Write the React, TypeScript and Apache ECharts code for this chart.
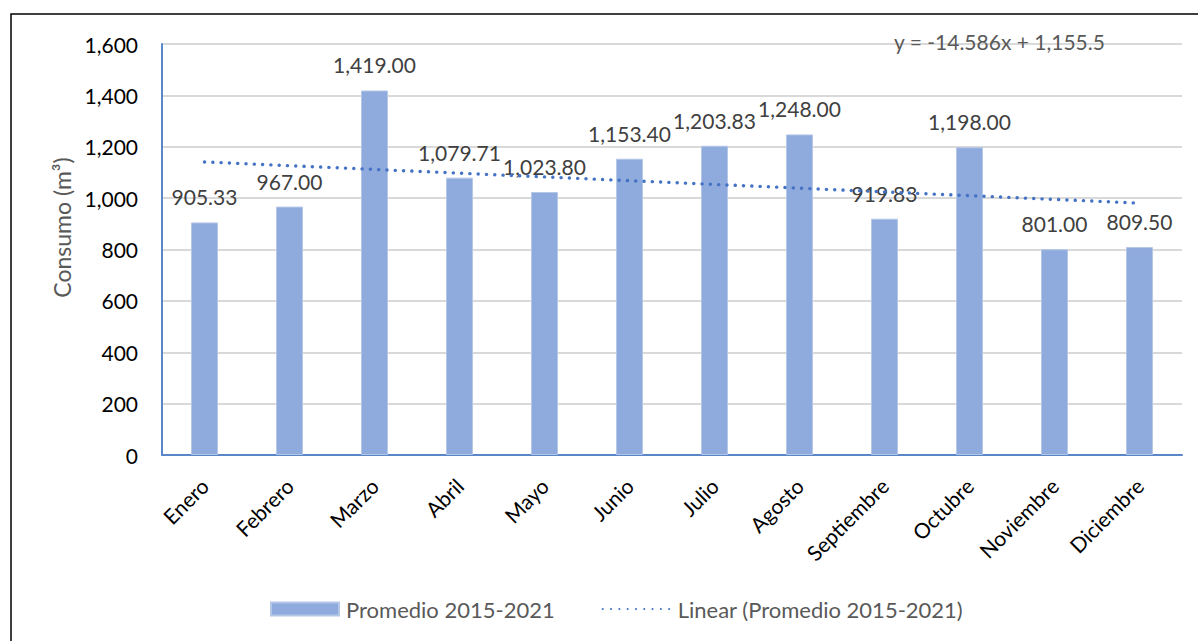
import React, { useEffect, useRef } from "react";
import * as echarts from "echarts";

const months = ["Enero", "Febrero", "Marzo", "Abril", "Mayo", "Junio", "Julio", "Agosto", "Septiembre", "Octubre", "Noviembre", "Diciembre"];
const promedio = [905.33, 967.0, 1419.0, 1079.71, 1023.8, 1153.4, 1203.83, 1248.0, 919.83, 1198.0, 801.0, 809.5];
// Trend line endpoints (from y = -14.586x + 1,155.5 at x = 1 and x = 12)
const trend = [1140.9, null, null, null, null, null, null, null, null, null, null, 980.5];
const yTicks = { min: 0, max: 1600, interval: 200 };
const equationText = "y = -14.586x + 1,155.5";
const seriesName = "Promedio 2015-2021";
const trendName = "Linear (Promedio 2015-2021)";

const FONT = "Lato, 'Open Sans', sans-serif";

export default function App() {
  const ref = useRef<HTMLDivElement>(null);
  useEffect(() => {
    if (!ref.current) return;
    const chart = echarts.init(ref.current, null, { renderer: "svg" });
    const fmt = (v: number) =>
      v.toLocaleString("en-US", { minimumFractionDigits: 2, maximumFractionDigits: 2 });
    chart.setOption({
      animation: false,
      backgroundColor: "#ffffff",
      textStyle: { fontFamily: FONT },
      grid: { left: 162, right: 16, top: 44, bottom: 186, containLabel: false },
      legend: {
        left: 270,
        top: 598,
        padding: 0,
        itemGap: 47,
        itemWidth: 68,
        itemHeight: 13,
        textStyle: { fontFamily: FONT, fontSize: 22, color: "#595959", padding: [0, 0, 0, 2] },
        data: [
          { name: seriesName, icon: "rect" },
          { name: trendName, itemStyle: { opacity: 0 } },
        ],
      },
      xAxis: {
        type: "category",
        data: months,
        axisLine: { show: true, lineStyle: { color: "#5B87C9", width: 2 } },
        axisTick: { show: false },
        axisLabel: {
          rotate: 45,
          margin: 27,
          interval: 0,
          fontFamily: FONT,
          fontSize: 21,
          color: "#000000",
        },
      },
      yAxis: {
        type: "value",
        min: yTicks.min,
        max: yTicks.max,
        interval: yTicks.interval,
        name: "Consumo (m³)",
        nameLocation: "middle",
        nameRotate: 90,
        nameGap: 86,
        nameTextStyle: { fontFamily: FONT, fontSize: 23, color: "#595959", padding: [0, 0, 0, 44] },
        axisLine: { show: true, lineStyle: { color: "#5B87C9", width: 2 } },
        axisTick: { show: false },
        splitLine: { show: true, lineStyle: { color: "#D9D9D9", width: 2 } },
        axisLabel: {
          margin: 24,
          fontFamily: FONT,
          fontSize: 21,
          color: "#000000",
          formatter: (v: number) => v.toLocaleString("en-US"),
        },
      },
      series: [
        {
          name: seriesName,
          type: "bar",
          data: promedio,
          barWidth: 27,
          itemStyle: { color: "#8FAADC", borderColor: "#B4C7E7", borderWidth: 1 },
          label: {
            show: true,
            position: "top",
            distance: 15,
            fontFamily: FONT,
            fontSize: 21,
            color: "#404040",
            formatter: (p: any) => fmt(p.value),
          },
          z: 2,
        },
        {
          name: trendName,
          type: "line",
          data: trend,
          connectNulls: true,
          symbol: "none",
          lineStyle: { color: "#4472C4", width: 3.4, type: [0.1, 8.2], cap: "round" },
          itemStyle: { color: "#4472C4" },
          z: 3,
        },
      ],
      graphic: [
        {
          type: "rect",
          shape: { x: 11, y: 14, width: 1300, height: 800 },
          style: { fill: "none", stroke: "#000000", lineWidth: 1.5 },
          silent: true,
        },
        {
          type: "text",
          x: 894,
          y: 31,
          z: 10,
          style: { text: equationText, fontFamily: FONT, fontSize: 21, fill: "#595959" },
          silent: true,
        },
      ],
    });
    return () => chart.dispose();
  }, []);
  return (
    <div
      ref={ref}
      style={{ position: "fixed", left: 0, top: 0, width: 1198, height: 641 }}
    />
  );
}
